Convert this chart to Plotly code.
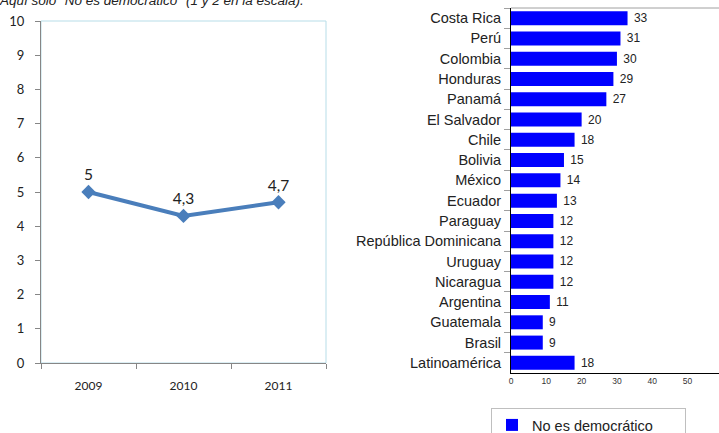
import plotly.graph_objects as go

# ---- data ----
years = ["2009", "2010", "2011"]
line_values = [5, 4.3, 4.7]
line_ticks = list(range(0, 11))

countries = ["Costa Rica", "Perú", "Colombia", "Honduras", "Panamá", "El Salvador",
             "Chile", "Bolivia", "México", "Ecuador", "Paraguay",
             "República Dominicana", "Uruguay", "Nicaragua", "Argentina",
             "Guatemala", "Brasil", "Latinoamérica"]
bar_values = [33, 31, 30, 29, 27, 20, 18, 15, 14, 13, 12, 12, 12, 12, 11, 9, 9, 18]
bar_ticks = [0, 10, 20, 30, 40, 50, 60]
series_name = "No es democrático"
note = 'Aquí sólo "No es democrático" (1 y 2 en la escala).'

W, H = 719, 433
line_labels = [f"{v:g}".replace(".", ",") for v in line_values]
bar_labels = ["\u00a0" + str(v) for v in bar_values]


def px_x(p):
    return p / W


def px_y(p):
    return 1 - p / H


fig = go.Figure()

fig.add_trace(go.Scatter(
    x=years, y=line_values, mode="lines+markers+text",
    text=line_labels, textposition="top center",
    textfont=dict(family="Lato", size=15.5, color="#222222"),
    line=dict(color="#4a7ebb", width=4),
    marker=dict(symbol="diamond", size=11, color="#4a7ebb"),
    showlegend=False, xaxis="x", yaxis="y", cliponaxis=False,
))

fig.add_trace(go.Bar(
    y=countries, x=bar_values, orientation="h", name=series_name,
    marker=dict(color="#0000ff", line=dict(width=0)),
    text=bar_labels, textposition="outside",
    textfont=dict(family="Liberation Sans", size=12, color="#222222"),
    cliponaxis=False, xaxis="x2", yaxis="y2",
))

grey = "#868686"
fig.update_layout(
    width=W, height=H,
    margin=dict(l=0, r=0, t=0, b=0, autoexpand=False),
    paper_bgcolor="white", plot_bgcolor="rgba(0,0,0,0)",
    bargap=0.31,
    showlegend=True,
    legend=dict(
        orientation="h",
        x=px_x(491), y=px_y(408), xanchor="left", yanchor="top",
        bordercolor="#bfbfbf", borderwidth=1, bgcolor="white",
        font=dict(family="Liberation Sans", size=14.5, color="#222222"),
        entrywidth=148,
    ),
    xaxis=dict(
        domain=[px_x(41), px_x(326)], anchor="y", type="category",
        range=[-0.5, 2.5], tickson="boundaries", ticks="outside", ticklen=5,
        tickcolor=grey, showline=True, linecolor=grey, linewidth=1,
        showgrid=False, zeroline=False,
        tickfont=dict(family="Lato", size=12, color="#222222"),
        ticklabelstandoff=12,
    ),
    yaxis=dict(
        domain=[px_y(363), px_y(21)], anchor="x",
        range=[0, 10], tickvals=line_ticks, ticks="outside", ticklen=5,
        tickcolor=grey, showline=True, linecolor=grey, linewidth=1,
        showgrid=False, zeroline=False,
        tickfont=dict(family="Lato", size=13, color="#222222"),
        ticklabelstandoff=8,
    ),
    xaxis2=dict(
        domain=[px_x(511), 1.0], anchor="y2", range=[0, 58.9],
        tickvals=bar_ticks, ticks="", showline=True, linecolor="black",
        linewidth=1, showgrid=False, zeroline=False,
        tickfont=dict(family="Liberation Sans", size=8.5, color="#333333"),
    ),
    yaxis2=dict(
        domain=[px_y(373), px_y(8)], anchor="x2", type="category",
        autorange="reversed", tickson="boundaries", ticks="outside",
        ticklen=6, tickcolor="#a0a0a0", showline=True, linecolor="black",
        linewidth=1, showgrid=False,
        tickfont=dict(family="Liberation Sans", size=14.5, color="#222222"),
        ticklabelstandoff=6,
    ),
    shapes=[
        dict(type="rect", xref="x domain", yref="y domain", x0=0, x1=1,
             y0=0, y1=1, line=dict(color="#b7dde8", width=1), layer="below"),
        dict(type="line", xref="x2 domain", yref="y2 domain", x0=0, x1=1,
             y0=1, y1=1, line=dict(color="#a0a0a0", width=1), layer="below"),
    ],
    annotations=[
        dict(text="<i>" + note + "</i>", xref="paper", yref="paper", x=0, y=1,
             xanchor="left", yanchor="bottom", yshift=-10, xshift=-3,
             showarrow=False,
             font=dict(family="Liberation Sans", size=13.5, color="#222222"),
             ),
    ],
)

fig.write_html("out.html", config={"staticPlot": True, "displayModeBar": False},
               post_script="document.body.style.margin='0px';")
